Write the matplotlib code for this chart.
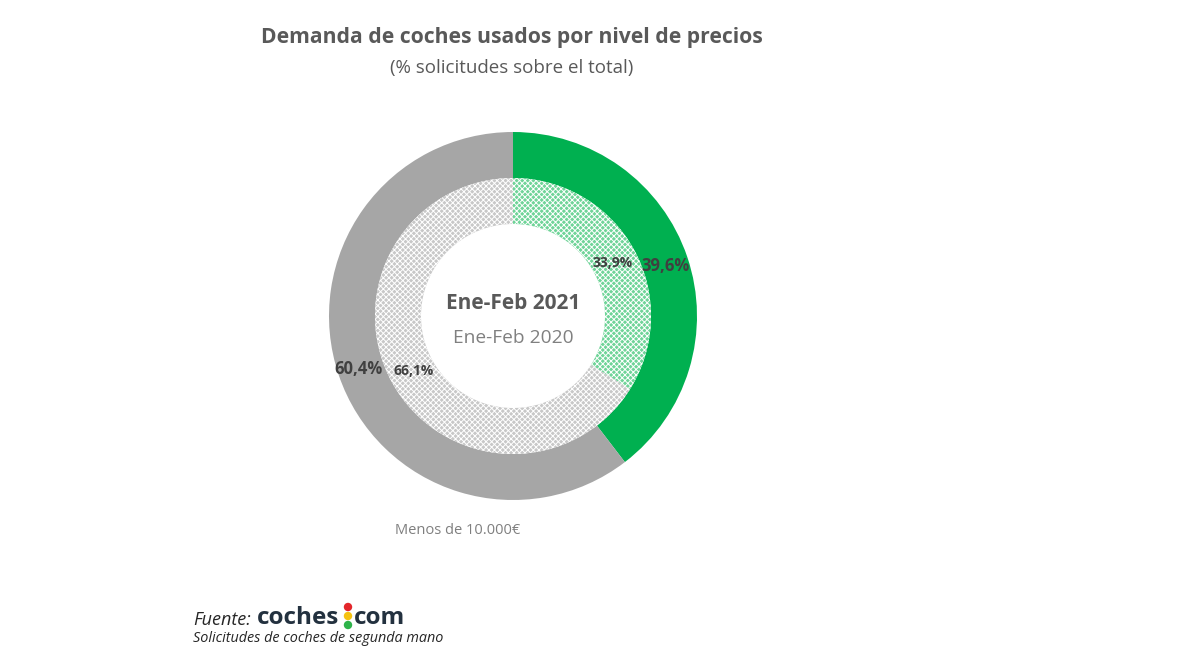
import matplotlib.pyplot as plt
from matplotlib.patches import Ellipse

# datos
segmentos = ["Más de 10.000€", "Menos de 10.000€"]
valores_2021 = [39.6, 60.4]
valores_2020 = [33.9, 66.1]
etiquetas_2021 = ["39,6%", "60,4%"]
etiquetas_2020 = ["33,9%", "66,1%"]

plt.rcParams['font.family'] = ['Open Sans', 'DejaVu Sans']
plt.rcParams['hatch.linewidth'] = 0.7

W, H = 1198, 658
fig = plt.figure(figsize=(W / 100, H / 100), dpi=100)

def fx(x):
    return x / W

def fy(y):
    return 1 - y / H

# donut: centro (513, 316), radio exterior 184 px
cx, cy, r = 513, 316, 184
ax = fig.add_axes([fx(cx - r), fy(cy + r), 2 * r / W, 2 * r / H])

# anillo exterior 2021
ax.pie(valores_2021, radius=1.0, startangle=90, counterclock=False,
       colors=['#00b050', '#a6a6a6'],
       wedgeprops=dict(width=0.25, linewidth=0))

# anillo interior 2020 (tramado)
w_in, _ = ax.pie(valores_2020, radius=0.75, startangle=90, counterclock=False,
                 colors=['#6fd498', '#c8c8c8'],
                 wedgeprops=dict(width=0.25, linewidth=0))
for w in w_in:
    w.set_hatch('xxxxxx')
    w.set_edgecolor('#ffffff')
    w.set_linewidth(0)

ax.set_xlim(-1, 1)
ax.set_ylim(-1, 1)
ax.set_aspect('equal')
ax.axis('off')

# etiquetas de porcentaje
ax.text(0.83, 0.27, etiquetas_2021[0], ha='center', va='center',
        fontsize=12, fontweight='bold', color='#404040')
ax.text(-0.84, -0.29, etiquetas_2021[1], ha='center', va='center',
        fontsize=12, fontweight='bold', color='#404040')
ax.text(0.54, 0.29, etiquetas_2020[0], ha='center', va='center',
        fontsize=10, fontweight='bold', color='#404040')
ax.text(-0.54, -0.30, etiquetas_2020[1], ha='center', va='center',
        fontsize=10, fontweight='bold', color='#404040')

# textos centrales
ax.text(0, 0.07, "Ene-Feb 2021", ha='center', va='center', fontsize=15,
        fontweight='bold', color='#595959')
ax.text(0, -0.12, "Ene-Feb 2020", ha='center', va='center', fontsize=13.8,
        color='#808080')

# títulos
fig.text(fx(512), fy(38), "Demanda de coches usados por nivel de precios",
         ha='center', va='center', fontsize=15.2, fontweight='bold', color='#595959')
fig.text(fx(512), fy(68), "(% solicitudes sobre el total)",
         ha='center', va='center', fontsize=13.5, color='#595959')

# leyenda
fig.text(fx(395), fy(531), segmentos[1], ha='left', va='center',
         fontsize=10.5, color='#7f7f7f')

# fuente
fig.text(fx(193), fy(620), "Fuente:", ha='left', va='center', fontsize=13,
         style='italic', color='#262626')
fig.text(fx(257), fy(618), "coches", ha='left', va='center', fontsize=17.5,
         fontweight='bold', color='#23313f')
fig.text(fx(354), fy(618), "com", ha='left', va='center', fontsize=17.5,
         fontweight='bold', color='#23313f')
for yy, col in zip([607, 616, 625], ['#e3262b', '#f5c211', '#2eb34a']):
    fig.patches.append(Ellipse((fx(348), fy(yy)), 7 / W, 7 / H, color=col,
                               transform=fig.transFigure, figure=fig))
fig.text(fx(193), fy(639), "Solicitudes de coches de segunda mano", ha='left',
         va='center', fontsize=10.4, style='italic', color='#262626')

fig.savefig('out.png', dpi=100)
